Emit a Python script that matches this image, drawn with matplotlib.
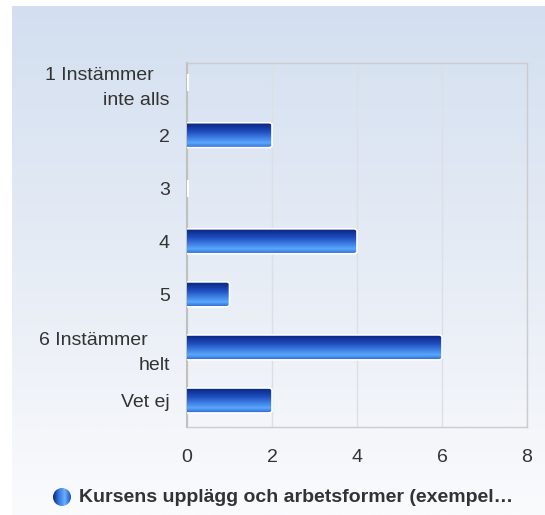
import numpy as np
import matplotlib.pyplot as plt
from matplotlib.colors import LinearSegmentedColormap
from matplotlib.patches import FancyBboxPatch, Ellipse

plt.rcParams['font.family'] = ['Liberation Sans', 'DejaVu Sans']

categories = ['1 Instämmer   \ninte alls', '2', '3', '4', '5', '6 Instämmer    \nhelt', 'Vet ej']
values = [0, 2, 0, 4, 1, 6, 2]
xticks = [0, 2, 4, 6, 8]
legend_label = 'Kursens upplägg och arbetsformer (exempel…'

W, H = 545, 515
fig = plt.figure(figsize=(W / 100, H / 100), dpi=100)
fig.patch.set_facecolor('white')

# background gradient panel
bg = fig.add_axes([12 / W, 0, 1 - 12 / W, 1 - 6 / H], zorder=-10)
bg_cmap = LinearSegmentedColormap.from_list('bg', ['#d3dff0', '#e6ecf5', '#fafbfd'])
bg.imshow(np.linspace(0, 1, 256).reshape(-1, 1), aspect='auto', cmap=bg_cmap,
          extent=[0, 1, 0, 1], origin='upper')
bg.axis('off')

ax = fig.add_axes([187 / W, 1 - 427 / H, 340 / W, 364 / H])
ax.patch.set_alpha(0)

bar_cmap = LinearSegmentedColormap.from_list(
    'bar', [(0, '#0a2580'), (0.35, '#1f4fc0'), (0.8, '#5aa8ff'), (1, '#2c64c8')])
grad = np.linspace(0, 1, 64).reshape(-1, 1)

bh = 0.47
for i, v in enumerate(values):
    if v == 0:
        ax.plot([0.02, 0.02], [i - 0.16, i + 0.16], color='white', lw=1.5,
                solid_capstyle='butt', zorder=3)
        continue
    patch = FancyBboxPatch((-0.3, i - bh / 2), v + 0.3, bh,
                           boxstyle='round,pad=0,rounding_size=0.08',
                           mutation_aspect=0.5,
                           facecolor='none', edgecolor='white', lw=1.2, zorder=4)
    ax.add_patch(patch)
    im = ax.imshow(grad, aspect='auto', cmap=bar_cmap,
                   extent=[-0.3, v, i + bh / 2, i - bh / 2], origin='upper', zorder=3)
    im.set_clip_path(patch)

ax.set_xlim(0, 8)
ax.set_ylim(6.5, -0.36)
ax.set_xticks(xticks)
ax.set_yticks(range(len(categories)))
ax.set_yticklabels(categories, linespacing=1.6)
ax.tick_params(axis='both', length=0, labelsize=14, labelcolor='#333333')
ax.tick_params(axis='x', pad=16)
ax.tick_params(axis='y', pad=12.5)
ax.grid(axis='x', color='#dcdfe4', lw=1)
ax.set_axisbelow(True)
for s in ax.spines.values():
    s.set_color('#cccccc')
    s.set_linewidth(1)
ax.spines['left'].set_color('#c0c0c0')
ax.spines['left'].set_linewidth(1.5)

# legend
lax = fig.add_axes([53 / W, 1 - 506 / H, 18 / W, 18 / H])
lax.set_xlim(0, 1)
lax.set_ylim(0, 1)
lax.axis('off')
circ = Ellipse((0.5, 0.5), 1, 1, facecolor='none', edgecolor='none')
lax.add_patch(circ)
lcmap = LinearSegmentedColormap.from_list('leg', ['#0a2580', '#3a78e0', '#6ab0ff', '#1f4fc0'])
lim = lax.imshow(np.linspace(0, 1, 64).reshape(1, -1), aspect='auto', cmap=lcmap,
                 extent=[0, 1, 0, 1])
lim.set_clip_path(circ)
fig.text(79 / W, 1 - 497 / H, legend_label, fontsize=14, fontweight='bold',
         color='#333333', va='center', ha='left')

fig.savefig('out.png', dpi=100)
